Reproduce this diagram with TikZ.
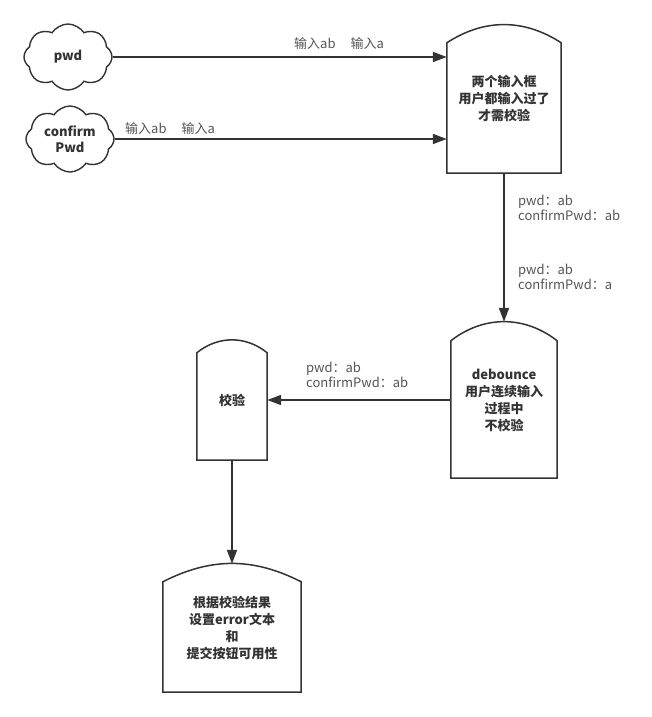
\documentclass[tikz,border=0pt]{standalone}
\usepackage{fontspec}
\setmainfont{Noto Sans CJK SC}
\usetikzlibrary{arrows.meta,shapes.symbols}
\definecolor{linegray}{HTML}{333333}
\definecolor{labelgray}{HTML}{555555}
\tikzset{
  cloudnode/.style={cloud, cloud puffs=8, cloud puff arc=115, aspect=1.35,
    draw=linegray, line width=1.4pt, minimum width=88pt, minimum height=66pt,
    inner sep=0pt, align=center, text=linegray,
    font=\fontsize{13}{16}\selectfont\bfseries},
  tombnode/.style={rectangle, inner sep=0pt, align=center, text=linegray,
    font=\fontsize{13}{17}\selectfont\bfseries},
  outline/.style={draw=linegray, line width=1.5pt},
  flowline/.style={draw=linegray, line width=1.8pt,
    -{Triangle[length=14pt,width=10pt]}},
  flowlabel/.style={anchor=west, align=left, inner sep=0pt, text=labelgray,
    font=\fontsize{13}{15}\selectfont}
}
% outline of a tombstone: node, arc height, bend angle
\newcommand{\tombstone}[3]{%
  \draw[outline] (#1.south west) -- ([yshift=-#2]#1.north west)
    to[bend left=#3] ([yshift=-#2]#1.north east) -- (#1.south east) -- cycle;}
\begin{document}
\begin{tikzpicture}[x=1pt,y=-1pt]
                \useasboundingbox (0,0) rectangle (651,717);
                
                % Inputs
                \node [cloudnode] (pwd) at (68,57) {pwd};
                \node [cloudnode] (confirm) at (70,139) {confirm\\Pwd};
                
                % Steps
                \node [tombnode, minimum width=114pt, minimum height=148pt] (both) at (504,99)
                  {两个输入框\\用户都输入过了\\才需校验};
                \node [tombnode, minimum width=106pt, minimum height=156pt] (debounce) at (504,400)
                  {debounce\\用户连续输入\\过程中\\不校验};
                \node [tombnode, minimum width=70pt, minimum height=120pt] (verify) at (232,400)
                  {校验};
                \node [tombnode, minimum width=138pt, minimum height=128pt] (result) at (232,628)
                  {根据校验结果\\设置error文本\\和\\提交按钮可用性};
                \tombstone{both}{18pt}{33}
                \tombstone{debounce}{19pt}{38}
                \tombstone{verify}{13pt}{39}
                \tombstone{result}{18pt}{27}
                
                % Drawing connectors
                \draw [flowline] (pwd.east) -- (pwd.east -| both.west);
                \draw [flowline] (confirm.east) -- (confirm.east -| both.west);
                \draw [flowline] (both.south) -- (debounce.north);
                \draw [flowline] (debounce.west) -- (debounce.west -| verify.east);
                \draw [flowline] (verify.south) -- (result.north);
                
                % Labels on connectors
                \node [flowlabel] (typepwd) at (294,44) {输入ab\hspace{15pt}输入a};
                \node [flowlabel] (typeconfirm) at (125,129) {输入ab\hspace{15pt}输入a};
                \node [flowlabel] (valuesab) at (518,208) {pwd：ab\\confirmPwd：ab};
                \node [flowlabel] (valuesa) at (518,277) {pwd：ab\\confirmPwd：a};
                \node [flowlabel] (valuesout) at (306,375) {pwd：ab\\confirmPwd：ab};
\end{tikzpicture}
\end{document}
